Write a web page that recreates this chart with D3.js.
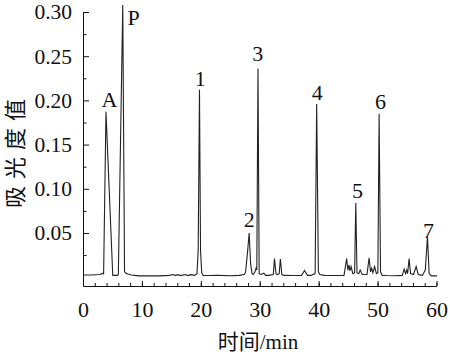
<!DOCTYPE html>
<html>
<head>
<meta charset="utf-8">
<script src="https://cdn.jsdelivr.net/npm/d3@7"></script>
<style>
  body { margin: 0; background: #fff; }
  svg { display: block; }
</style>
</head>
<body>
<div id="chart"></div>
<script>
'use strict';

// chromatogram trace (time in min, absorbance)
var traceTime = [0, 1.5, 2.8, 3.4, 3.5, 3.9, 5.05, 5.5, 5.9, 6.0, 6.75, 7.05, 7.3, 7.6, 8.2, 8.8, 9.5,
  11, 13, 14.6, 15.3, 15.7, 16.1, 16.6, 17.3, 17.8, 18.3, 18.9, 19.35, 19.55, 19.77, 19.95, 20.15, 20.4,
  21.5, 23, 25, 26.5, 27.4, 27.6, 27.95, 28.2, 28.45, 28.7, 28.9, 29.2, 29.4, 29.5, 29.7, 29.9, 30.2,
  30.7, 31.0, 31.5, 32.3, 32.5, 32.75, 33.0, 33.3, 33.5, 33.75, 34.1, 35.5, 37.1, 37.6, 38.1, 38.7,
  39.4, 39.66, 39.95, 40.2, 41, 43, 44.3, 44.75, 44.95, 45.15, 45.3, 45.5, 45.8, 46.1, 46.3, 46.5,
  46.8, 47.05, 47.4, 48.2, 48.56, 48.8, 49.0, 49.2, 49.5, 49.8, 50.05, 50.26, 50.5, 50.8, 51.5,
  53, 54.2, 54.5, 54.75, 54.95, 55.1, 55.35, 55.6, 56.1, 56.55, 56.9, 57.6, 58.1, 58.47, 58.75, 59.1, 60.1];
var traceAbs = [0.0025, 0.0025, 0.003, 0.0042, 0.004, 0.187, 0.002, 0.002, 0.002, 0.004, 0.308, 0.006, 0.0045, 0.0035, 0.0025, 0.002, 0.0015,
  0.0015, 0.0015, 0.002, 0.003, 0.0018, 0.0028, 0.0018, 0.003, 0.0018, 0.0028, 0.002, 0.004, 0.03, 0.212, 0.03, 0.005, 0.002,
  0.0018, 0.002, 0.0016, 0.002, 0.003, 0.006, 0.03, 0.050, 0.015, 0.004, 0.003, 0.006, 0.011, 0.008, 0.236, 0.004, 0.003,
  0.0045, 0.002, 0.002, 0.003, 0.021, 0.004, 0.003, 0.004, 0.0206, 0.003, 0.002, 0.0018, 0.002, 0.0075, 0.002, 0.002,
  0.004, 0.196, 0.006, 0.003, 0.002, 0.0018, 0.002, 0.021, 0.008, 0.014, 0.007, 0.012, 0.004, 0.005, 0.084, 0.005,
  0.004, 0.008, 0.003, 0.003, 0.022, 0.006, 0.010, 0.005, 0.012, 0.004, 0.005, 0.185, 0.006, 0.002, 0.0018,
  0.0016, 0.002, 0.009, 0.004, 0.008, 0.004, 0.021, 0.004, 0.003, 0.012, 0.003, 0.002, 0.008, 0.046, 0.004, 0.0015, 0.0014];

// peak labels and where they sit
var peakLabels = ['A', 'P', '1', '2', '3', '4', '5', '6', '7'];
var labelTime = [4.5, 8.58, 19.9, 28.2, 29.66, 39.77, 46.6, 50.5, 58.65];
var labelAbs = [0.2016, 0.294, 0.2253, 0.0658, 0.2536, 0.2095, 0.0986, 0.1993, 0.0534];

var xTicks = [0, 10, 20, 30, 40, 50, 60];
var xMinorTicks = d3.range(0, 61, 2);
var yTicks = [0.05, 0.10, 0.15, 0.20, 0.25, 0.30];
var yMinorTicks = [0.025, 0.075, 0.125, 0.175, 0.225, 0.275];

var width = 450, height = 359;
var serif = '"Liberation Serif", "Times New Roman", "Noto Sans CJK SC", serif';

var svg = d3.select('#chart').append('svg')
    .attr('width', width)
    .attr('height', height);

var x = d3.scaleLinear().domain([0, 60]).range([83, 436.5]);
var y = d3.scaleLinear().domain([-0.01, 0.30]).range([286, 12]);

// axes, ticks pointing inward
var xAxis = svg.append('g')
    .attr('transform', 'translate(0,' + y(-0.01) + ')')
    .call(d3.axisBottom(x).tickValues(xTicks).tickSize(-5).tickSizeOuter(0).tickPadding(15));
svg.append('g')
    .attr('transform', 'translate(0,' + y(-0.01) + ')')
    .call(d3.axisBottom(x).tickValues(xMinorTicks).tickSize(-3).tickSizeOuter(0).tickFormat(''))
    .select('.domain').remove();

var yAxis = svg.append('g')
    .attr('transform', 'translate(' + x(0) + ',0)')
    .call(d3.axisLeft(y).tickValues(yTicks).tickSize(-6).tickSizeOuter(0).tickPadding(11)
      .tickFormat(d3.format('.2f')));
svg.append('g')
    .attr('transform', 'translate(' + x(0) + ',0)')
    .call(d3.axisLeft(y).tickValues(yMinorTicks).tickSize(-3.5).tickSizeOuter(0).tickFormat(''))
    .select('.domain').remove();

svg.selectAll('g').attr('font-family', serif);
svg.selectAll('.domain').attr('stroke', '#111').attr('stroke-width', 1);
svg.selectAll('.tick line').attr('stroke', '#111');
xAxis.selectAll('text').style('font-family', serif).style('font-size', '22px').attr('fill', '#111');
yAxis.selectAll('text').style('font-family', serif).style('font-size', '21.5px').attr('fill', '#111');

// trace
var pts = traceTime.map(function(t, i){ return [t, traceAbs[i]]; });
var line = d3.line()
    .x(function(d){ return x(d[0]); })
    .y(function(d){ return y(d[1]); });
svg.append('path')
    .datum(pts)
    .attr('d', line)
    .attr('fill', 'none')
    .attr('stroke', '#222')
    .attr('stroke-width', 1.1)
    .attr('stroke-linejoin', 'miter');

// peak labels
svg.selectAll('.peak')
    .data(peakLabels)
  .enter().append('text')
    .attr('class', 'peak')
    .attr('x', function(d, i){ return x(labelTime[i]); })
    .attr('y', function(d, i){ return y(labelAbs[i]); })
    .attr('dy', '0.35em')
    .attr('text-anchor', 'middle')
    .style('font-family', serif)
    .style('font-size', '22px')
    .attr('fill', '#111')
    .text(function(d){ return d; });

// axis titles
svg.append('text')
    .attr('x', 258)
    .attr('y', 349)
    .attr('text-anchor', 'middle')
    .style('font-family', serif)
    .style('font-size', '21px')
    .attr('fill', '#111')
    .text('时间/min');

svg.append('text')
    .attr('transform', 'translate(15,150) rotate(-90)')
    .attr('text-anchor', 'middle')
    .attr('dy', '0.35em')
    .style('font-family', serif)
    .style('font-size', '22px')
    .style('letter-spacing', '7px')
    .attr('fill', '#111')
    .text('吸光度值');
</script>
</body>
</html>
